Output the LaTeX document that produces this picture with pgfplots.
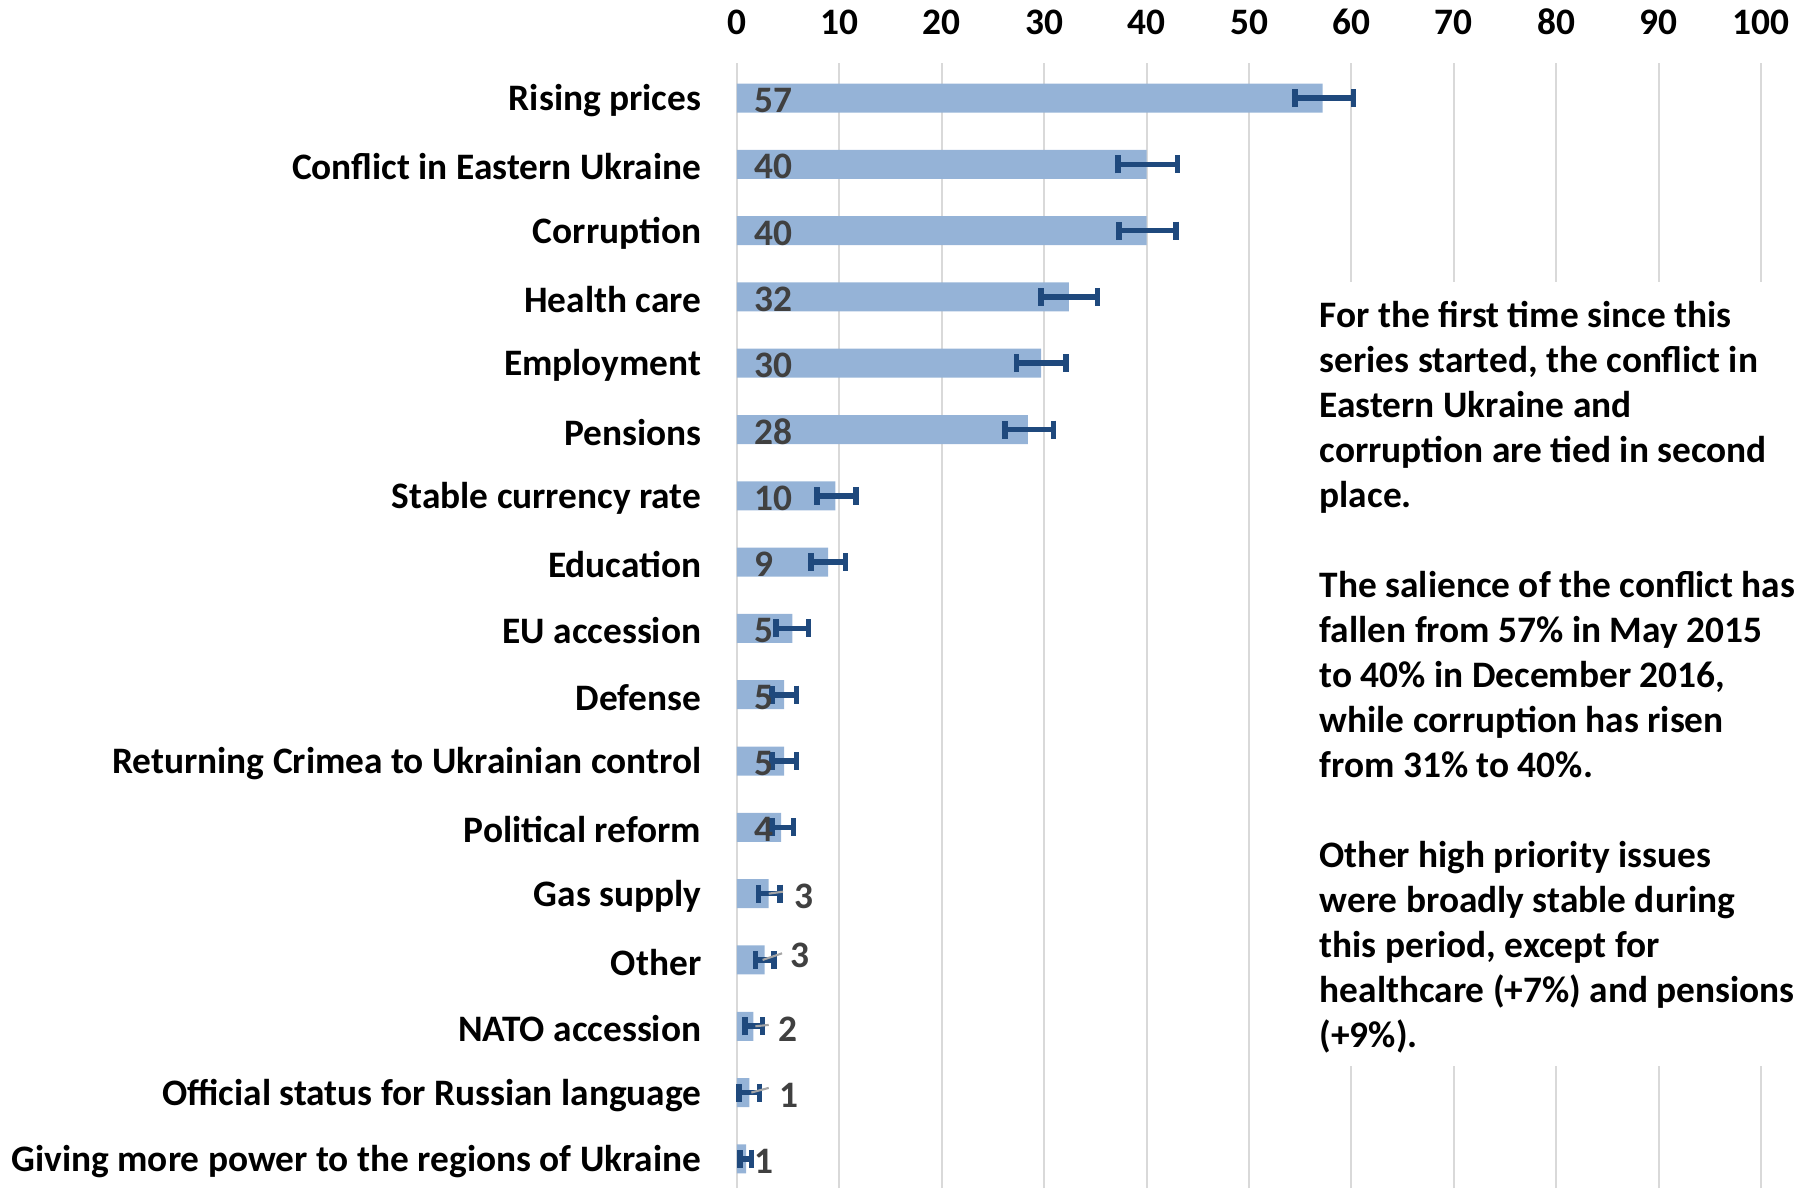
\documentclass[border=0pt]{standalone}
\usepackage{fontspec}
\setmainfont{Carlito}
\usepackage{pgfplots}
\pgfplotsset{compat=1.18}
\definecolor{barblue}{HTML}{95B3D7}
\definecolor{errblue}{HTML}{1F497D}
\definecolor{lblgray}{HTML}{404040}
\definecolor{gridgray}{HTML}{D9D9D9}
\definecolor{leadgray}{HTML}{A6A6A6}
\newcommand{\chartfont}{\bfseries\fontsize{10.63}{12.8}\selectfont}

\begin{document}
\begin{tikzpicture}
\path[use as bounding box] (0,0) rectangle (180.7mm,-118.8mm);
\begin{axis}[
    at={(73.7mm,-6.3mm)}, anchor=north west,
    scale only axis, width=102.4mm, height=112.5mm,
    xmin=0, xmax=100, ymin=-16.44, ymax=0.528,
    axis line style={draw=none},
    major tick length=0pt,
    xtick={0,10,...,100},
    xticklabel pos=upper,
    xmajorgrids=true,
    major grid style={gridgray, line width=0.6pt},
    /pgf/number format/assume math mode=true,
    xticklabel style={font=\chartfont, yshift=1.6mm},
    ytick={0,-1,...,-16},
    yticklabels={Rising prices, Conflict in Eastern Ukraine, Corruption, Health care,
        Employment, Pensions, Stable currency rate, Education, EU accession, Defense,
        Returning Crimea to Ukrainian control, Political reform, Gas supply, Other,
        NATO accession, Official status for Russian language,
        Giving more power to the regions of Ukraine},
    yticklabel style={font=\chartfont, anchor=east, inner sep=0pt, xshift=-3.5mm, yshift=-0.25mm},
    clip=false,
]
% bars with asymmetric error bars
\addplot[xbar, bar width=2.9mm, fill=barblue, draw=none,
    error bars/.cd, x dir=both, x explicit, error mark=|,
    error bar style={draw=errblue, line width=1.6pt},
    error mark options={draw=errblue, line width=1.6pt, mark size=0.9mm}]
coordinates {
    (57.2,0)   += (3.0,0) -= (2.7,0)
    (40.0,-1)  += (3.0,0) -= (2.8,0)
    (40.0,-2)  += (2.9,0) -= (2.7,0)
    (32.4,-3)  += (2.8,0) -= (2.7,0)
    (29.7,-4)  += (2.4,0) -= (2.4,0)
    (28.4,-5)  += (2.5,0) -= (2.2,0)
    (9.6,-6)   += (2.0,0) -= (1.8,0)
    (8.9,-7)   += (1.7,0) -= (1.7,0)
    (5.4,-8)   += (1.6,0) -= (1.6,0)
    (4.6,-9)   += (1.2,0) -= (1.2,0)
    (4.6,-10)  += (1.2,0) -= (1.2,0)
    (4.3,-11)  += (1.2,0) -= (0.9,0)
    (3.1,-12)  += (1.1,0) -= (1.0,0)
    (2.7,-13)  += (0.9,0) -= (0.9,0)
    (1.6,-14)  += (0.9,0) -= (0.8,0)
    (1.2,-15)  += (1.0,0) -= (1.0,0)
    (0.9,-16)  += (0.5,0) -= (0.6,0)
};
% leader lines for labels placed outside
\draw[leadgray, line width=0.6pt] (axis cs:3.1,-12) -- (axis cs:4.5,-11.97);
\draw[leadgray, line width=0.6pt] (axis cs:2.5,-13) -- (axis cs:4.4,-12.9);
\draw[leadgray, line width=0.6pt] (axis cs:1.8,-14) -- (axis cs:3.1,-13.98);
\draw[leadgray, line width=0.6pt] (axis cs:1.4,-15) -- (axis cs:3.1,-14.93);
% data labels
\addplot[draw=none, mark=none, nodes near coords, point meta=explicit symbolic,
    every node near coord/.append style={anchor=west, inner sep=0pt, yshift=-0.25mm,
        font=\chartfont, text=lblgray}]
coordinates {
    (1.6,0) [57] (1.6,-1) [40] (1.6,-2) [40] (1.6,-3) [32] (1.6,-4) [30]
    (1.6,-5) [28] (1.6,-6) [10] (1.6,-7) [9] (1.6,-8) [5] (1.6,-9) [5]
    (1.6,-10) [5] (1.6,-11) [4] (5.5,-12) [3] (5.2,-12.9) [3] (4.0,-14) [2]
    (4.1,-15) [1] (1.6,-16) [1]
};
\end{axis}
\fill[white] (130.8mm,-28.2mm) rectangle (180.7mm,-106.6mm);
\node[anchor=north west, inner sep=0pt, align=left, font=\chartfont]
    at (131.9mm,-30.1mm) {For the first time since this\\
    series started, the conflict in\\
    Eastern Ukraine and\\
    corruption are tied in second\\
    place.\\[12.8pt]
    The salience of the conflict has\\
    fallen from 57\% in May 2015\\
    to 40\% in December 2016,\\
    while corruption has risen\\
    from 31\% to 40\%.\\[12.8pt]
    Other high priority issues\\
    were broadly stable during\\
    this period, except for\\
    healthcare (+7\%) and pensions\\
    (+9\%).};
\end{tikzpicture}
\end{document}
